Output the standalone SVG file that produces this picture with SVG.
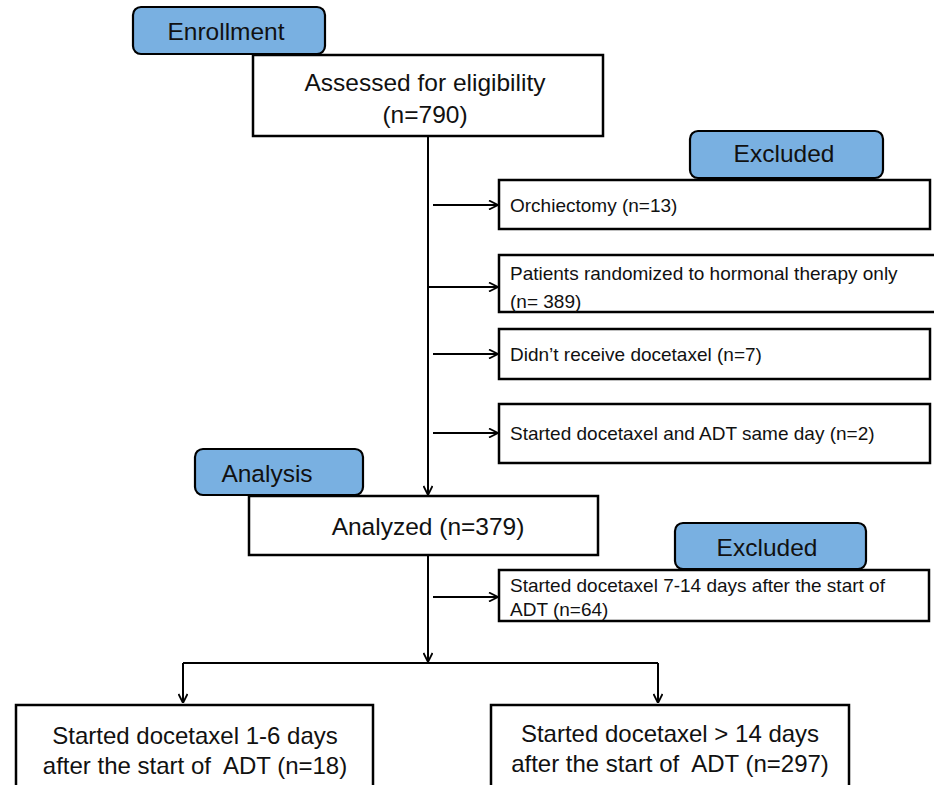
<svg xmlns="http://www.w3.org/2000/svg" width="934" height="785" viewBox="0 0 934 785">
<style>
.box{fill:#fff;stroke:#000;stroke-width:2.5}
.tag{fill:#79b0e1;stroke:#000;stroke-width:2.2}
.big{font-family:"Liberation Sans",Arial,sans-serif;font-size:24.5px;fill:#111;text-anchor:middle;dominant-baseline:central}
.small{font-family:"Liberation Sans",Arial,sans-serif;font-size:19px;fill:#111;dominant-baseline:central}
.bot{font-family:"Liberation Sans",Arial,sans-serif;font-size:24px;fill:#111;text-anchor:middle;dominant-baseline:central;white-space:pre}
.ln{fill:none;stroke:#000;stroke-width:2}
</style>
<defs>
<marker id="arr" viewBox="0 0 10 10" refX="10" refY="5" markerWidth="10" markerHeight="10" markerUnits="userSpaceOnUse" orient="auto">
<path d="M1,0.5 L10,5 L1,9.5" fill="none" stroke="#000" stroke-width="1.8"/>
</marker>
</defs>

<g id="connectors">
<path class="ln" d="M428,136 V495" marker-end="url(#arr)"/>
<path class="ln" d="M433,205 H498" marker-end="url(#arr)"/>
<path class="ln" d="M428,287 H498" marker-end="url(#arr)"/>
<path class="ln" d="M433,354 H498" marker-end="url(#arr)"/>
<path class="ln" d="M433,433 H498" marker-end="url(#arr)"/>
<path class="ln" d="M428,555 V662" marker-end="url(#arr)"/>
<path class="ln" d="M433,597 H498" marker-end="url(#arr)"/>
<path class="ln" d="M183,663 H658"/>
<path class="ln" d="M183,663 V703" marker-end="url(#arr)"/>
<path class="ln" d="M658,663 V703" marker-end="url(#arr)"/>
</g>

<g id="assessed">
<rect class="box" x="253" y="55" width="350" height="81"/>
<text class="big" x="425" y="82">Assessed for eligibility</text>
<text class="big" x="425" y="114">(n=790)</text>
</g>
<g id="enrollment">
<rect class="tag" x="133" y="7" width="192" height="47" rx="8"/>
<text class="big" x="226" y="31">Enrollment</text>
</g>

<g id="orchiectomy">
<rect class="box" x="499" y="180" width="431" height="49"/>
<text class="small" x="510" y="205">Orchiectomy (n=13)</text>
</g>
<g id="excluded1">
<rect class="tag" x="690" y="131" width="193" height="47" rx="8"/>
<text class="big" x="784" y="153">Excluded</text>
</g>

<g id="hormonal">
<rect class="box" x="499" y="255" width="445" height="57"/>
<text class="small" x="510" y="273">Patients randomized to hormonal therapy only</text>
<text class="small" x="510" y="301">(n= 389)</text>
</g>
<g id="nodocetaxel">
<rect class="box" x="499" y="329" width="431" height="50"/>
<text class="small" x="510" y="354">Didn’t receive docetaxel (n=7)</text>
</g>
<g id="sameday">
<rect class="box" x="499" y="404" width="431" height="59"/>
<text class="small" x="510" y="433">Started docetaxel and ADT same day (n=2)</text>
</g>

<g id="analyzed">
<rect class="box" x="249" y="496" width="349" height="59"/>
<text class="big" x="428" y="526">Analyzed (n=379)</text>
</g>
<g id="analysis">
<rect class="tag" x="195" y="449" width="168" height="46" rx="8"/>
<text class="big" x="267" y="473">Analysis</text>
</g>

<g id="days7to14">
<rect class="box" x="499" y="570" width="430" height="51"/>
<text class="small" x="510" y="585">Started docetaxel 7-14 days after the start of</text>
<text class="small" x="510" y="609">ADT (n=64)</text>
</g>
<g id="excluded2">
<rect class="tag" x="675" y="523" width="191" height="46" rx="8"/>
<text class="big" x="767" y="547">Excluded</text>
</g>

<g id="days1to6">
<rect class="box" x="16" y="705" width="357" height="100"/>
<text class="bot" x="195" y="735">Started docetaxel 1-6 days</text>
<text class="bot" x="195" y="765">after the start of  ADT (n=18)</text>
</g>
<g id="days14plus">
<rect class="box" x="491" y="705" width="358" height="100"/>
<text class="bot" x="670" y="733">Started docetaxel &gt; 14 days</text>
<text class="bot" x="670" y="763">after the start of  ADT (n=297)</text>
</g>
</svg>
